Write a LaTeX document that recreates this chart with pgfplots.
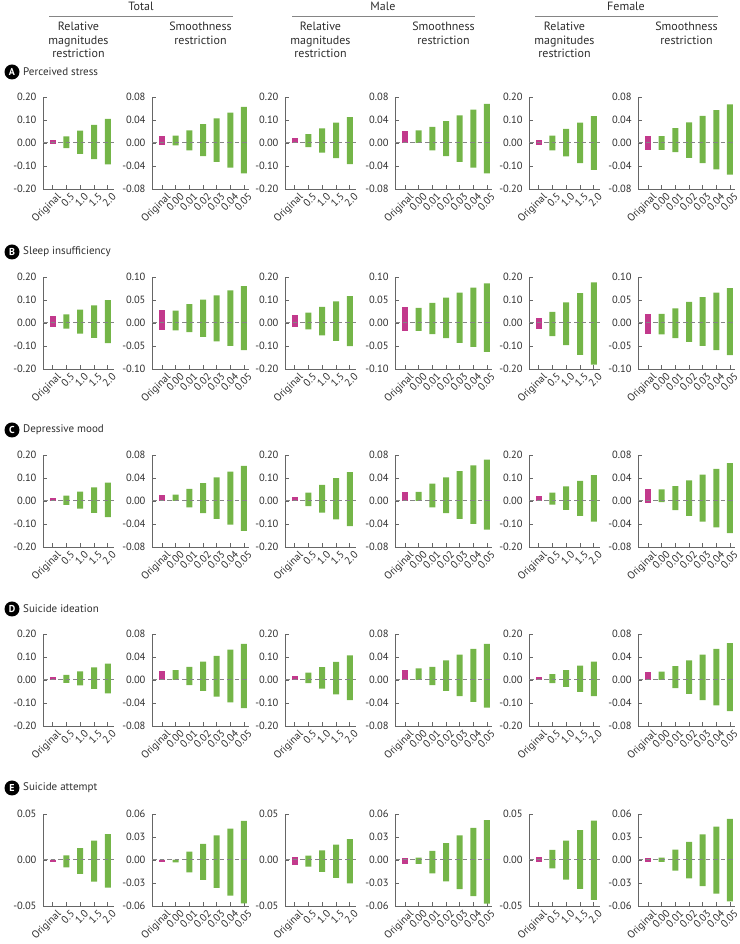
\documentclass[border=0pt]{standalone}
\usepackage{fontspec}
\setmainfont{PT Sans}
\usepackage{pgfplots}
\pgfplotsset{compat=1.18}
\definecolor{pinkc}{HTML}{C2398C}
\definecolor{greenc}{HTML}{74B548}
\definecolor{axc}{HTML}{666666}
\definecolor{dashc}{HTML}{858585}
\definecolor{txt}{HTML}{2E2E2E}
\pgfplotsset{
 base/.style={scale only axis, height=92pt, axis lines=left,
   axis line style={-, axc, line width=0.9pt},
   scaled y ticks=false, scaled x ticks=false,
   tick align=inside, major tick length=3.5pt, tick style={axc, line width=0.8pt},
   ticklabel style={font=\fontsize{10.5}{12}\selectfont, text=txt},
   yticklabel style={xshift=-3pt},
   xticklabel style={rotate=45, anchor=north east, inner sep=0.5pt, xshift=1pt, yshift=-4pt},
   clip=false},
 rel/.style={base, width=71pt, xmin=-0.7, xmax=4.45, xtick={0,1,2,3,4},
   xticklabels={Original,0.5,1.0,1.5,2.0}},
 smo/.style={base, width=97pt, xmin=-0.74, xmax=6.37, xtick={0,1,2,3,4,5,6},
   xticklabels={Original,0.00,0.01,0.02,0.03,0.04,0.05}},
 yA/.style={ymin=-0.2, ymax=0.2, ytick={-0.2,-0.1,0,0.1,0.2}, yticklabels={-0.20,-0.10,0.00,0.10,0.20}},
 yB/.style={ymin=-0.08, ymax=0.08, ytick={-0.08,-0.04,0,0.04,0.08}, yticklabels={-0.08,-0.04,0.00,0.04,0.08}},
 yC/.style={ymin=-0.1, ymax=0.1, ytick={-0.1,-0.05,0,0.05,0.1}, yticklabels={-0.10,-0.05,0.00,0.05,0.10}},
 yD/.style={ymin=-0.05, ymax=0.05, ytick={-0.05,0,0.05}, yticklabels={-0.05,0.00,0.05}},
 yE/.style={ymin=-0.06, ymax=0.06, ytick={-0.06,-0.03,0,0.03,0.06}, yticklabels={-0.06,-0.03,0.00,0.03,0.06}},
 pinkbar/.style={ybar, bar width=6pt, bar shift=0pt, fill=pinkc, draw=none},
 greenbar/.style={ybar, bar width=6pt, bar shift=0pt, fill=greenc, draw=none},
}
\newcommand\Panel[7]{%
\begin{axis}[#3, at={(#1pt,#2pt)}, anchor=south west]
\addplot[pinkbar] coordinates {(0,#4)};
\addplot[pinkbar] coordinates {(0,#5)};
\addplot[greenbar] coordinates {#6};
\addplot[greenbar] coordinates {#7};
\draw[dashc, line width=1pt, dash pattern=on 4.5pt off 3pt] (rel axis cs:0,0.5) -- (rel axis cs:1,0.5);
\end{axis}}
\newcommand\RowLab[3]{%
\fill[black] (12pt,#1pt) circle (7.5pt);
\node[white, font=\bfseries\fontsize{10}{10}\selectfont, inner sep=0pt] at (12pt,#1pt) {#2};
\node[anchor=west, font=\fontsize{11}{12}\selectfont, text=txt, inner sep=0pt] at (23pt,#1pt) {#3};}
\begin{document}
\begin{tikzpicture}
\useasboundingbox (0,0) rectangle (739pt,944pt);
% headers
\tikzset{hd/.style={anchor=north, align=center, font=\fontsize{12}{13.5}\selectfont, text=txt, inner sep=0pt}}
\node[hd] at (141pt,942pt) {Total};
\node[hd] at (383pt,942pt) {Male};
\node[hd] at (626pt,942pt) {Female};
\draw[axc!80, line width=0.7pt] (49pt,928pt) -- (233pt,928pt);
\draw[axc!80, line width=0.7pt] (292pt,928pt) -- (475pt,928pt);
\draw[axc!80, line width=0.7pt] (535pt,928pt) -- (718pt,928pt);
\node[hd] at (78.5pt,922pt) {Relative\\magnitudes\\restriction};
\node[hd] at (200.5pt,922pt) {Smoothness\\restriction};
\node[hd] at (320.5pt,922pt) {Relative\\magnitudes\\restriction};
\node[hd] at (443.5pt,922pt) {Smoothness\\restriction};
\node[hd] at (564.5pt,922pt) {Relative\\magnitudes\\restriction};
\node[hd] at (686.5pt,922pt) {Smoothness\\restriction};
\RowLab{872}{A}{Perceived stress}
\RowLab{692}{B}{Sleep insufficiency}
\RowLab{514}{C}{Depressive mood}
\RowLab{335}{D}{Suicide ideation}
\RowLab{156}{E}{Suicide attempt}
% Row A
\Panel{43}{755}{rel,yA}{0.012}{-0.002}{(1,0.029)(2,0.054)(3,0.079)(4,0.105)}{(1,-0.022)(2,-0.047)(3,-0.070)(4,-0.093)}
\Panel{152}{755}{smo,yB}{0.013}{-0.004}{(1,0.013)(2,0.022)(3,0.033)(4,0.043)(5,0.053)(6,0.063)}{(1,-0.004)(2,-0.013)(3,-0.023)(4,-0.033)(5,-0.043)(6,-0.053)}
\Panel{285}{755}{rel,yA}{0.021}{0}{(1,0.038)(2,0.063)(3,0.088)(4,0.112)}{(1,-0.018)(2,-0.042)(3,-0.066)(4,-0.092)}
\Panel{395}{755}{smo,yB}{0.021}{0}{(1,0.022)(2,0.028)(3,0.038)(4,0.048)(5,0.058)(6,0.068)}{(1,0)(2,-0.013)(3,-0.023)(4,-0.033)(5,-0.043)(6,-0.053)}
\Panel{529}{755}{rel,yA}{0.012}{-0.010}{(1,0.032)(2,0.061)(3,0.088)(4,0.117)}{(1,-0.032)(2,-0.058)(3,-0.088)(4,-0.117)}
\Panel{638}{755}{smo,yB}{0.013}{-0.012}{(1,0.012)(2,0.026)(3,0.036)(4,0.047)(5,0.057)(6,0.067)}{(1,-0.012)(2,-0.016)(3,-0.026)(4,-0.035)(5,-0.046)(6,-0.055)}
% Row B
\Panel{43}{575}{rel,yA}{0.029}{-0.017}{(1,0.038)(2,0.058)(3,0.077)(4,0.099)}{(1,-0.025)(2,-0.046)(3,-0.065)(4,-0.087)}
\Panel{152}{575}{smo,yC}{0.028}{-0.016}{(1,0.027)(2,0.041)(3,0.051)(4,0.060)(5,0.071)(6,0.080)}{(1,-0.016)(2,-0.020)(3,-0.030)(4,-0.040)(5,-0.050)(6,-0.059)}
\Panel{285}{575}{rel,yA}{0.033}{-0.017}{(1,0.045)(2,0.070)(3,0.094)(4,0.117)}{(1,-0.028)(2,-0.054)(3,-0.078)(4,-0.101)}
\Panel{395}{575}{smo,yC}{0.035}{-0.017}{(1,0.033)(2,0.044)(3,0.055)(4,0.066)(5,0.077)(6,0.086)}{(1,-0.017)(2,-0.024)(3,-0.033)(4,-0.043)(5,-0.052)(6,-0.063)}
\Panel{529}{575}{rel,yA}{0.022}{-0.025}{(1,0.048)(2,0.090)(3,0.130)(4,0.177)}{(1,-0.057)(2,-0.096)(3,-0.139)(4,-0.181)}
\Panel{638}{575}{smo,yC}{0.020}{-0.025}{(1,0.020)(2,0.032)(3,0.046)(4,0.056)(5,0.066)(6,0.076)}{(1,-0.025)(2,-0.033)(3,-0.041)(4,-0.050)(5,-0.059)(6,-0.070)}
% Row C
\Panel{43}{397}{rel,yA}{0.011}{0}{(1,0.023)(2,0.041)(3,0.059)(4,0.080)}{(1,-0.017)(2,-0.033)(3,-0.052)(4,-0.070)}
\Panel{152}{397}{smo,yB}{0.010}{0}{(1,0.011)(2,0.021)(3,0.031)(4,0.041)(5,0.051)(6,0.061)}{(1,0)(2,-0.011)(3,-0.021)(4,-0.031)(5,-0.041)(6,-0.052)}
\Panel{285}{397}{rel,yA}{0.016}{0}{(1,0.036)(2,0.070)(3,0.099)(4,0.125)}{(1,-0.022)(2,-0.051)(3,-0.080)(4,-0.109)}
\Panel{395}{397}{smo,yB}{0.016}{0}{(1,0.016)(2,0.030)(3,0.041)(4,0.052)(5,0.062)(6,0.072)}{(1,0)(2,-0.011)(3,-0.021)(4,-0.031)(5,-0.040)(6,-0.050)}
\Panel{529}{397}{rel,yA}{0.022}{0}{(1,0.036)(2,0.064)(3,0.087)(4,0.112)}{(1,-0.016)(2,-0.039)(3,-0.065)(4,-0.090)}
\Panel{638}{397}{smo,yB}{0.020}{-0.003}{(1,0.020)(2,0.026)(3,0.036)(4,0.046)(5,0.056)(6,0.066)}{(1,-0.002)(2,-0.016)(3,-0.026)(4,-0.036)(5,-0.046)(6,-0.056)}
% Row D
\Panel{43}{218}{rel,yA}{0.013}{0}{(1,0.022)(2,0.037)(3,0.055)(4,0.071)}{(1,-0.012)(2,-0.023)(3,-0.039)(4,-0.058)}
\Panel{152}{218}{smo,yB}{0.015}{0}{(1,0.017)(2,0.023)(3,0.032)(4,0.042)(5,0.053)(6,0.063)}{(1,0)(2,-0.009)(3,-0.019)(4,-0.029)(5,-0.039)(6,-0.049)}
\Panel{285}{218}{rel,yA}{0.017}{0}{(1,0.032)(2,0.056)(3,0.079)(4,0.107)}{(1,-0.014)(2,-0.037)(3,-0.063)(4,-0.087)}
\Panel{395}{218}{smo,yB}{0.018}{0}{(1,0.020)(2,0.023)(3,0.034)(4,0.044)(5,0.054)(6,0.063)}{(1,0)(2,-0.009)(3,-0.019)(4,-0.028)(5,-0.038)(6,-0.048)}
\Panel{529}{218}{rel,yA}{0.013}{0}{(1,0.025)(2,0.043)(3,0.062)(4,0.080)}{(1,-0.014)(2,-0.030)(3,-0.052)(4,-0.070)}
\Panel{638}{218}{smo,yB}{0.014}{0}{(1,0.0145)(2,0.024)(3,0.034)(4,0.044)(5,0.054)(6,0.064)}{(1,0)(2,-0.014)(3,-0.024)(4,-0.035)(5,-0.044)(6,-0.054)}
% Row E
\Panel{43}{38}{rel,yD}{0}{-0.0025}{(1,0.005)(2,0.013)(3,0.021)(4,0.028)}{(1,-0.008)(2,-0.015)(3,-0.0235)(4,-0.030)}
\Panel{152}{38}{smo,yE}{0}{-0.003}{(1,0)(2,0.011)(3,0.021)(4,0.032)(5,0.041)(6,0.051)}{(1,-0.003)(2,-0.016)(3,-0.026)(4,-0.0365)(5,-0.0465)(6,-0.0565)}
\Panel{285}{38}{rel,yD}{0.003}{-0.0054}{(1,0.0047)(2,0.0105)(3,0.0167)(4,0.0228)}{(1,-0.0072)(2,-0.013)(3,-0.0195)(4,-0.0253)}
\Panel{395}{38}{smo,yE}{0.0026}{-0.0052}{(1,0.003)(2,0.012)(3,0.022)(4,0.032)(5,0.042)(6,0.052)}{(1,-0.0052)(2,-0.0174)(3,-0.028)(4,-0.038)(5,-0.047)(6,-0.057)}
\Panel{529}{38}{rel,yD}{0.003}{-0.0025}{(1,0.011)(2,0.021)(3,0.0326)(4,0.0427)}{(1,-0.009)(2,-0.0214)(3,-0.0315)(4,-0.0434)}
\Panel{638}{38}{smo,yE}{0.003}{-0.0026}{(1,0.003)(2,0.0135)(3,0.0235)(4,0.0335)(5,0.0435)(6,0.0535)}{(1,-0.0026)(2,-0.014)(3,-0.024)(4,-0.034)(5,-0.044)(6,-0.054)}
\end{tikzpicture}
\end{document}
